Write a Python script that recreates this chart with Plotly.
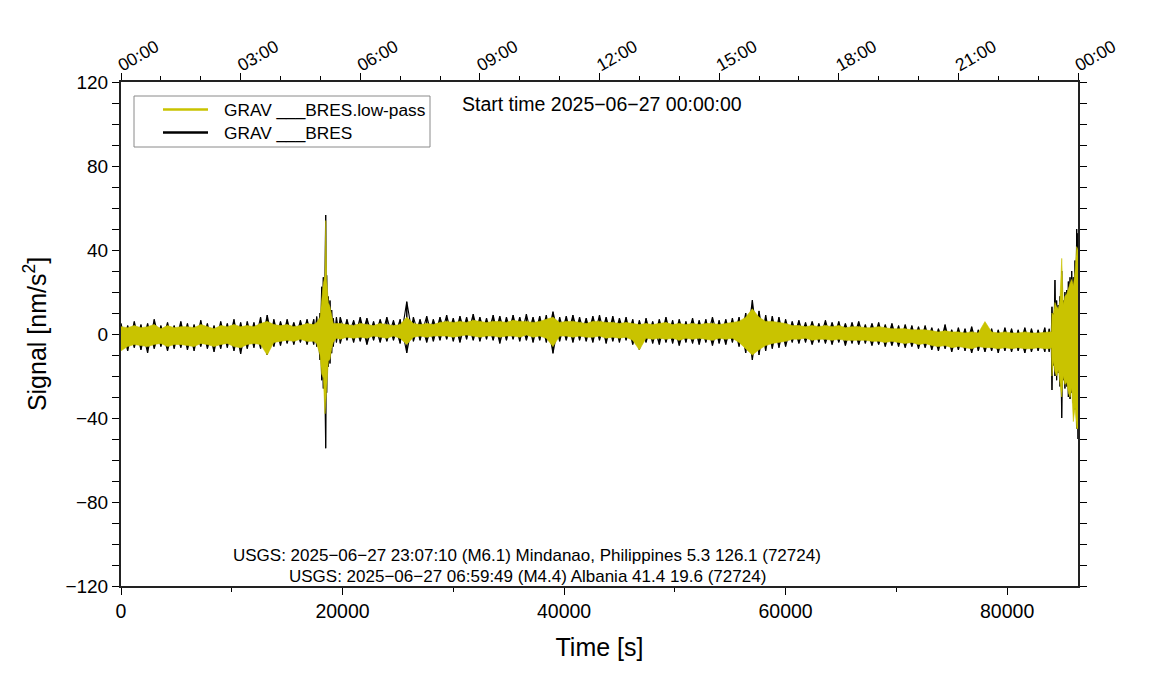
import numpy as np
import plotly.graph_objects as go

# ---------------- data ----------------
# background envelope, segment 1: t = 0 .. 16800 s every 600 s
seg1_t0, seg1_t1, step = 0, 16800, 600
bh1 = [5, 4, 6, 4.5, 5, 7, 4, 5.5, 4, 6, 5, 4.5, 6.5, 5, 4, 6, 5, 7, 5.5, 6, 5.5, 8, 9, 7, 6, 7, 5.5, 6.5, 7]
bl1 = [-7, -8, -6.5, -7.5, -9, -7, -6, -8, -7, -6.5, -7.5, -8, -6, -7, -8.5, -7, -6.5, -8, -9.5, -7, -6.5, -7, -10, -6, -5.5, -4.5, -5, -4, -5]
yh1 = [3.5, 3, 4, 3, 3.5, 4.5, 2.5, 4, 3, 3.5, 3.5, 3, 4.5, 3.5, 2.5, 4, 3.5, 4.5, 3.5, 4, 3.5, 5, 6, 4.5, 4, 4.5, 3.5, 4, 5]
yl1 = [-8, -6, -5, -5.5, -6, -5, -4.5, -6, -5, -5, -5.5, -6, -4.5, -5, -6, -5, -4.5, -6, -6.5, -5, -4.5, -5, -10, -4, -3.5, -3, -3.5, -2.5, -3.5]

# background envelope, segment 2: t = 19800 .. 83400 s every 600 s
seg2_t0, seg2_t1 = 19800, 83400
bh2 = [8, 7, 6.5, 8, 7.5, 6, 7, 8, 6.5, 7, 15.4, 8, 7, 8.5, 7,
       8, 9, 7.5, 8.5, 8, 9.5, 8, 7.5, 9, 8.5, 8, 9, 8, 9.5, 8, 8.5, 9, 10.6, 8, 8.5, 9, 8, 7.5, 8.5, 9, 8, 8.5, 7.5, 8,
       7, 6.5, 7.5, 6, 7, 8, 6.5, 7, 6, 7.5, 6.5, 7, 8, 6.5, 7, 7.5,
       8, 10, 16.2, 11, 9,
       8.5, 8, 7,
       6, 6.5, 5.5, 6, 5, 6.5, 5.5, 6, 5, 5.5, 6, 4.5, 5, 5.5, 4.5, 5, 4, 4.5, 4, 3.5, 4,
       3, 2.5, 4.5, 2, 3, 2.5, 3.5, 2, 3, 2.5, 2, 3, 2.5, 2, 3, 2.5, 2, 3]
bl2 = [-4.5, -3, -4, -3.5, -5, -3, -4, -3.5, -3, -4.5, -9, -3.5, -3, -4, -3.5,
       -3, -2.5, -3.5, -4, -2.5, -3, -3.5, -2.5, -3, -4.5, -3, -2.5, -3.5, -3, -4, -3, -4, -9.2, -3.5, -3, -4, -3, -3.5, -4, -3, -4.5, -3.5, -4, -3,
       -5, -7.5, -4, -4.5, -5, -4, -4.5, -5.5, -4, -4.5, -5, -4, -5.5, -4.5, -5, -4,
       -6, -9, -12.4, -10, -8,
       -7, -6.5, -6,
       -4, -4.5, -4, -5, -4, -4.5, -5, -4, -5.5, -4.5, -5, -4.5, -5.5, -5, -6, -5.5, -6, -6.5, -6, -7, -6.5,
       -7.5, -8, -7, -8.5, -7.5, -8, -9, -8, -8.5, -8, -9, -8, -8.5, -8, -9, -8.5, -8, -8.5]
yh2 = [5, 4.5, 4, 5, 4.5, 4, 5, 4.5, 4, 4.5, 8, 5, 4.5, 5, 4.5,
       5.5, 6, 5.5, 6, 5.5, 6.5, 6, 5.5, 6, 6, 5.5, 6.5, 6, 6, 5.5, 6, 7, 8, 5.5, 6, 6, 5.5, 5, 6, 6, 5.5, 5.5, 5, 5.5,
       5, 4.5, 5, 4.5, 5, 5.5, 4.5, 5, 4.5, 5, 4.5, 5, 5, 4.5, 5, 5.5,
       6, 8, 12, 8, 6,
       6, 5.5, 5,
       4, 4, 3.5, 4, 3.5, 4, 3.5, 4, 3, 3.5, 3.5, 3, 3, 3.5, 3, 2.5, 2.5, 2.5, 2, 2, 2,
       1.5, 1, 1.5, 1, 1, 0.5, 1, 0.5, 5.9, 1, 0.5, 1, 0.5, 0.5, 1, 0.5, 0.5, 1]
yl2 = [-2.5, -1.5, -2, -1.5, -2, -1, -1.5, -2, -1, -2, -5, -1.5, -1, -1.5, -1,
       -1, -1, -1.5, -1, -0.5, -1, -1.5, -1, -1, -1.5, -1, -1, -1.5, -0.5, -1.5, -1, -2, -6, -1, -1, -1.5, -1, -1.5, -1.5, -1, -2, -1.5, -2, -1.5,
       -3, -7.6, -2, -2.5, -2, -2.5, -2, -3, -2, -2.5, -2, -2.5, -3, -2, -2.5, -2,
       -4, -7, -10, -7.5, -5.5,
       -4.5, -4, -3.5,
       -2.5, -2.5, -2, -3, -2.5, -2.5, -3, -2.5, -3, -3, -3, -3, -3.5, -3.5, -4, -3.5, -4, -4.5, -4, -5, -4.5,
       -5.5, -6, -5.5, -6.5, -6, -6.5, -7, -6, -6.5, -6.5, -7, -6.5, -7, -6.5, -7, -7, -6.5, -7]

# event detail (quake at ~05:08 and Mindanao arrival at the end of the day)
ev_t = [17400, 17667, 17966, 18116, 18267, 18417, 18480, 18567, 18718, 18868, 19019, 19168, 19450,
        83800, 84000, 84050, 84170, 84320, 84470, 84620, 84770, 84930, 85070, 85220, 85380,
        85530, 85680, 85830, 85980, 86130, 86280, 86400]
ev_bh = [7, 8.3, 10, 22.5, 27, 30, 56.7, 28, 17.8, 16, 11.4, 7.5, 8,
         2.5, 2, 13, 10, 25.7, 16, 13.8, 18, 30, 16, 20, 21,
         25, 27, 30, 27, 35, 50, 48]
ev_bl = [-5, -6, -12.4, -22, -26, -30, -54.4, -28, -15.6, -14, -9.2, -6, -4,
         -8.5, -8, -26.7, -15, -20, -22, -18.6, -25, -40, -22, -26, -25,
         -30, -31, -28, -33, -36, -45, -50]
ev_yh = [4.5, 5.5, 8, 18, 24, 28, 54, 26, 15, 13, 8, 5, 5,
         1, 1, 10, 9, 15, 13, 12, 16, 36, 14, 18, 19,
         22, 24, 26, 23, 30, 41.6, 40]
ev_yl = [-3.5, -4.5, -10, -19, -21, -38, -38, -26, -13, -12, -7, -4, -2,
         -7, -6.5, -20, -13, -18, -20, -17, -23, -30, -20, -24, -23,
         -28, -30, -26, -41.7, -35, -45, -45]

x_ticks = [0, 20000, 40000, 60000, 80000]
y_ticks = [-120, -80, -40, 0, 40, 80, 120]
top_tick_vals = [0, 10800, 21600, 32400, 43200, 54000, 64800, 75600, 86400]
top_tick_text = ["00:00", "03:00", "06:00", "09:00", "12:00", "15:00", "18:00", "21:00", "00:00"]

legend_names = ["GRAV ___BRES.low-pass", "GRAV ___BRES"]
start_text = "Start time 2025\u221206\u221227 00:00:00"
usgs_lines = ["USGS: 2025\u221206\u221227 23:07:10 (M6.1) Mindanao, Philippines 5.3 126.1 (72724)",
              "USGS: 2025\u221206\u221227 06:59:49 (M4.4) Albania 41.4 19.6 (72724)"]

# ---------------- assemble envelopes ----------------
t1 = np.arange(seg1_t0, seg1_t1 + 1, step)
t2 = np.arange(seg2_t0, seg2_t1 + 1, step)
T = np.concatenate([t1, t2, np.array(ev_t)])
BH = np.concatenate([bh1, bh2, ev_bh])
BL = np.concatenate([bl1, bl2, ev_bl])
YH = np.concatenate([yh1, yh2, ev_yh])
YL = np.concatenate([yl1, yl2, ev_yl])
order = np.argsort(T, kind="stable")
T, BH, BL, YH, YL = T[order], BH[order], BL[order], YH[order], YL[order]

YEL = "#c9c300"
FONT = "Liberation Sans, Arial, Helvetica, sans-serif"

fig = go.Figure()
# raw signal: swings between its upper and lower envelope at each sample
fig.add_trace(go.Scatter(
    x=np.repeat(T, 2), y=np.column_stack([BH, BL]).ravel(),
    mode="lines", line=dict(color="black", width=1.1),
    showlegend=False, hoverinfo="skip"))
fig.add_trace(go.Scatter(
    x=np.repeat(T, 2), y=np.column_stack([BL, BH]).ravel(),
    mode="lines", line=dict(color="black", width=1.1),
    showlegend=False, hoverinfo="skip"))
# low-pass signal band
fig.add_trace(go.Scatter(
    x=np.concatenate([T, T[::-1]]), y=np.concatenate([YH, YL[::-1]]),
    fill="toself", fillcolor=YEL, mode="lines",
    line=dict(color=YEL, width=0.6), showlegend=False, hoverinfo="skip"))
# invisible trace to activate the top (clock time) axis
fig.add_trace(go.Scatter(x=[0, 86400], y=[0, 0], xaxis="x2", mode="lines",
                         line=dict(width=0), opacity=0, showlegend=False, hoverinfo="skip"))

W, H = 1151, 700
L, R, TOP, BOT = 121, 1078, 82, 586
def px(x):
    return (x - L) / (R - L)
def py(y):
    return (BOT - y) / (BOT - TOP)

shapes = [
    dict(type="rect", xref="paper", yref="paper", x0=px(134), x1=px(430), y0=py(147), y1=py(96),
         line=dict(color="#8a8a8a", width=1), fillcolor="white", layer="above"),
    dict(type="line", xref="paper", yref="paper", x0=px(163), x1=px(208), y0=py(109.5), y1=py(109.5),
         line=dict(color=YEL, width=2.5), layer="above"),
    dict(type="line", xref="paper", yref="paper", x0=px(163), x1=px(208), y0=py(132.5), y1=py(132.5),
         line=dict(color="black", width=2.5), layer="above"),
]
annotations = [
    dict(x=px(222), y=py(109.5), xref="paper", yref="paper", text=legend_names[0], showarrow=False,
         xanchor="left", yanchor="middle", font=dict(size=17.3, color="black", family=FONT)),
    dict(x=px(222), y=py(132.5), xref="paper", yref="paper", text=legend_names[1], showarrow=False,
         xanchor="left", yanchor="middle", font=dict(size=17.3, color="black", family=FONT)),
    dict(x=px(460), y=py(104), xref="paper", yref="paper", text=start_text, showarrow=False,
         xanchor="left", yanchor="middle", font=dict(size=19.5, color="black", family=FONT)),
    dict(x=px(527), y=py(555), xref="paper", yref="paper", text=usgs_lines[0], showarrow=False,
         xanchor="center", yanchor="middle", font=dict(size=17, color="black", family=FONT)),
    dict(x=px(527), y=py(576), xref="paper", yref="paper", text=usgs_lines[1], showarrow=False,
         xanchor="center", yanchor="middle", font=dict(size=17, color="black", family=FONT)),
]

fig.update_layout(
    width=W, height=H,
    margin=dict(l=L, r=W - R, t=TOP, b=H - BOT, autoexpand=False),
    paper_bgcolor="white", plot_bgcolor="white",
    font=dict(family=FONT, color="black", size=17),
    showlegend=False,
    shapes=shapes, annotations=annotations,
    xaxis=dict(range=[0, 86400], tickvals=x_ticks, tickformat="d",
               ticks="outside", ticklen=7, tickwidth=1.2, tickcolor="black",
               minor=dict(dtick=10000, tick0=0, ticks="outside", ticklen=4, tickcolor="black", tickwidth=1),
               showline=True, linewidth=2, linecolor="#222", showgrid=False, zeroline=False,
               tickfont=dict(size=19.5), title=dict(text="Time [s]", font=dict(size=25), standoff=17)),
    xaxis2=dict(range=[0, 86400], overlaying="x", side="top", tickvals=top_tick_vals, ticktext=top_tick_text,
                tickangle=-30, ticks="outside", ticklen=7, tickwidth=1.2, tickcolor="black",
                ticklabelstandoff=-7, ticklabelshift=-3,
                minor=dict(tickvals=list(range(0, 86401, 3600)), ticks="outside", ticklen=4, tickcolor="black", tickwidth=1),
                showline=True, linewidth=2, linecolor="#222", showgrid=False, zeroline=False,
                tickfont=dict(size=17.5)),
    yaxis=dict(range=[-120, 120], tickvals=y_ticks, ticks="outside", ticklen=7, tickwidth=1.2, tickcolor="black",
               minor=dict(dtick=10, tick0=0, ticks="outside", ticklen=4, tickcolor="black", tickwidth=1),
               showline=True, linewidth=2, linecolor="#222", mirror="allticks",
               showgrid=False, zeroline=False, tickfont=dict(size=19),
               title=dict(text="Signal [nm/s<sup>2</sup>]", font=dict(size=25), standoff=12)),
)

fig.write_html("out.html", config={"displayModeBar": False},
               post_script="document.body.style.margin='0px';document.body.style.padding='0px';")
